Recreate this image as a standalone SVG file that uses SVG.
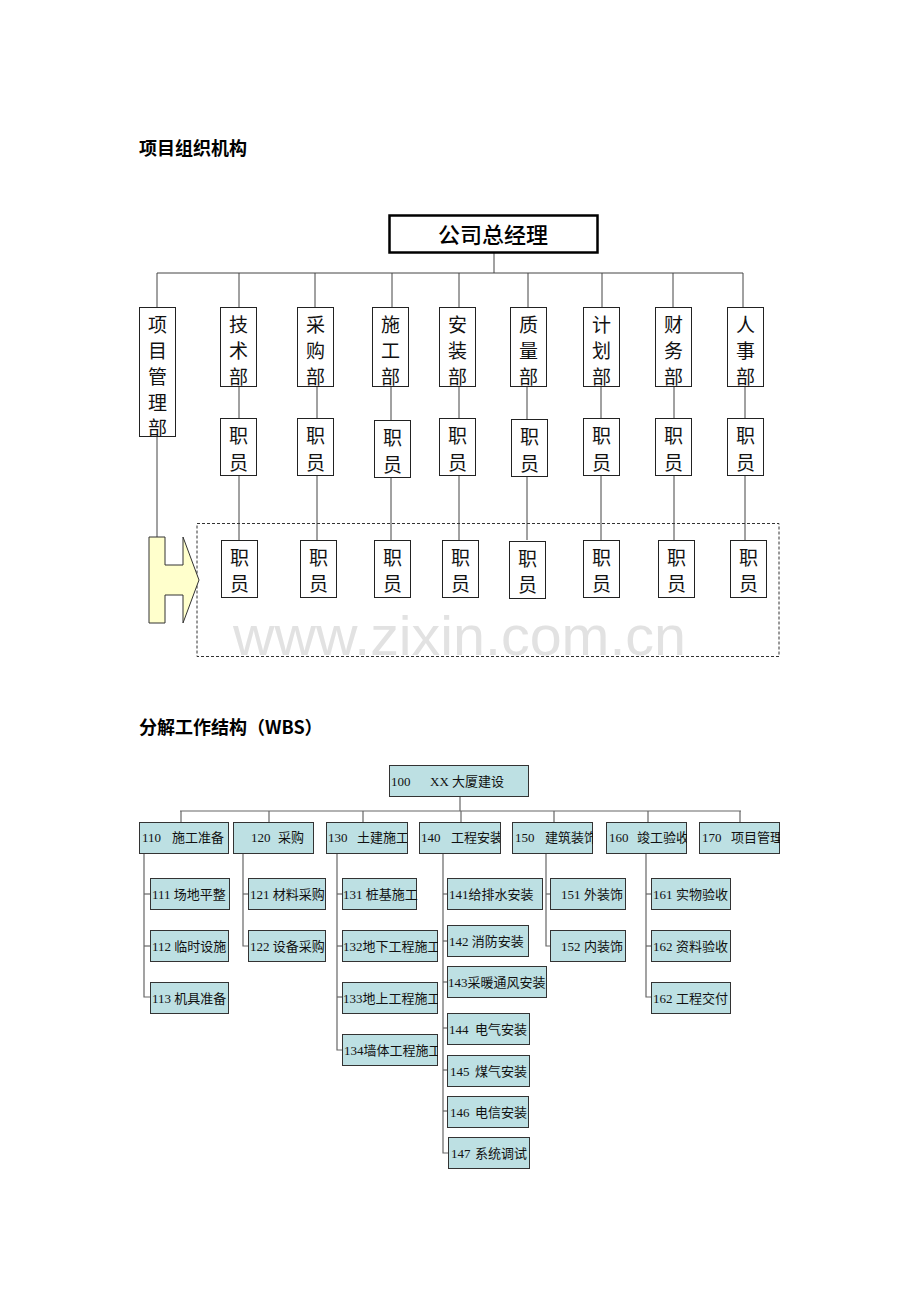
<svg xmlns="http://www.w3.org/2000/svg" width="920" height="1302" viewBox="0 0 920 1302">
<style>
.title{font-family:"Noto Sans CJK SC","Liberation Sans",sans-serif;font-size:18px;font-weight:bold;fill:#000}
.ob{fill:#fff;stroke:#222;stroke-width:1}
.ot{font-family:"Liberation Serif","Noto Sans CJK SC",serif;font-size:19px;fill:#111;text-anchor:middle}
.ln{stroke:#444;stroke-width:1;fill:none}
.wb{fill:#bde0e3;stroke:#333;stroke-width:1}
.wt{font-family:"Liberation Serif","Noto Sans CJK SC",serif;font-size:13px;fill:#111}
.wl{stroke:#666;stroke-width:1.2;fill:none}
</style>
<defs>
<clipPath id="c130"><rect x="326" y="822" width="81" height="31"/></clipPath>
<clipPath id="c140"><rect x="420" y="822" width="80" height="31"/></clipPath>
<clipPath id="c150"><rect x="513" y="822" width="80" height="31"/></clipPath>
<clipPath id="c160"><rect x="607" y="822" width="80" height="31"/></clipPath>
<clipPath id="c170"><rect x="700" y="822" width="80" height="31"/></clipPath>
<clipPath id="c132"><rect x="342" y="931" width="96" height="31"/></clipPath>
<clipPath id="c133"><rect x="342" y="982" width="96" height="31"/></clipPath>
<clipPath id="c134"><rect x="342" y="1034" width="96" height="31"/></clipPath>
</defs>
<rect width="920" height="1302" fill="#fff"/>

<text class="title" x="139" y="155">项目组织机构</text>
<text class="title" x="139" y="734">分解工作结构（WBS）</text>

<text x="233" y="655" font-family="Liberation Sans,Arial,sans-serif" font-size="56" fill="#e2e2e2" textLength="453" lengthAdjust="spacingAndGlyphs">www.zixin.com.cn</text>

<g id="org-connectors">
<line class="ln" x1="494" y1="253" x2="494" y2="273"/>
<line class="ln" x1="157" y1="273" x2="743" y2="273"/>
<line class="ln" x1="157" y1="273" x2="157" y2="307"/>
<line class="ln" x1="239" y1="273" x2="239" y2="307"/>
<line class="ln" x1="315" y1="273" x2="315" y2="307"/>
<line class="ln" x1="392" y1="273" x2="392" y2="307"/>
<line class="ln" x1="459" y1="273" x2="459" y2="307"/>
<line class="ln" x1="528" y1="273" x2="528" y2="307"/>
<line class="ln" x1="602" y1="273" x2="602" y2="307"/>
<line class="ln" x1="673" y1="273" x2="673" y2="307"/>
<line class="ln" x1="743" y1="273" x2="743" y2="307"/>
<line class="ln" x1="157" y1="436" x2="157" y2="537"/>
<line class="ln" x1="239" y1="386" x2="239" y2="540"/>
<line class="ln" x1="317" y1="386" x2="317" y2="540"/>
<line class="ln" x1="391" y1="386" x2="391" y2="540"/>
<line class="ln" x1="459" y1="386" x2="459" y2="540"/>
<line class="ln" x1="527" y1="386" x2="527" y2="540"/>
<line class="ln" x1="601" y1="386" x2="601" y2="540"/>
<line class="ln" x1="674" y1="386" x2="674" y2="540"/>
<line class="ln" x1="745" y1="386" x2="745" y2="540"/>
<rect x="197" y="523.5" width="582" height="133" fill="none" stroke="#333" stroke-width="1" stroke-dasharray="3,2"/>
<polygon points="149,537 165,537 165,565 183,565 183,537 199,580 183,623 183,595 165,595 165,623 149,623" fill="#ffffcc" stroke="#333" stroke-width="1"/>
</g>

<g id="gm">
<rect x="389.5" y="215.5" width="208" height="37" fill="#fff" stroke="#000" stroke-width="2.5"/>
<text x="493" y="243" font-family="Noto Sans CJK SC,sans-serif" font-size="22" font-weight="500" text-anchor="middle" fill="#000">公司总经理</text>
</g>

<g id="d-xm"><rect class="ob" x="139.5" y="307.5" width="36" height="129"/>
<text class="ot" x="157.5"><tspan x="157.5" y="332">项</tspan><tspan x="157.5" y="358">目</tspan><tspan x="157.5" y="384">管</tspan><tspan x="157.5" y="410">理</tspan><tspan x="157.5" y="435">部</tspan></text></g>

<g id="d-js"><rect class="ob" x="220.5" y="307.5" width="36" height="79"/>
<text class="ot"><tspan x="238.5" y="332">技</tspan><tspan x="238.5" y="358">术</tspan><tspan x="238.5" y="384">部</tspan></text></g>
<g id="d-cg"><rect class="ob" x="297.5" y="307.5" width="36" height="79"/>
<text class="ot"><tspan x="315.5" y="332">采</tspan><tspan x="315.5" y="358">购</tspan><tspan x="315.5" y="384">部</tspan></text></g>
<g id="d-sg"><rect class="ob" x="372.5" y="307.5" width="36" height="79"/>
<text class="ot"><tspan x="390.5" y="332">施</tspan><tspan x="390.5" y="358">工</tspan><tspan x="390.5" y="384">部</tspan></text></g>
<g id="d-az"><rect class="ob" x="439.5" y="307.5" width="36" height="79"/>
<text class="ot"><tspan x="457.5" y="332">安</tspan><tspan x="457.5" y="358">装</tspan><tspan x="457.5" y="384">部</tspan></text></g>
<g id="d-zl"><rect class="ob" x="510.5" y="307.5" width="36" height="79"/>
<text class="ot"><tspan x="528.5" y="332">质</tspan><tspan x="528.5" y="358">量</tspan><tspan x="528.5" y="384">部</tspan></text></g>
<g id="d-jh"><rect class="ob" x="583.5" y="307.5" width="36" height="79"/>
<text class="ot"><tspan x="601.5" y="332">计</tspan><tspan x="601.5" y="358">划</tspan><tspan x="601.5" y="384">部</tspan></text></g>
<g id="d-cw"><rect class="ob" x="655.5" y="307.5" width="36" height="79"/>
<text class="ot"><tspan x="673.5" y="332">财</tspan><tspan x="673.5" y="358">务</tspan><tspan x="673.5" y="384">部</tspan></text></g>
<g id="d-rs"><rect class="ob" x="727.5" y="307.5" width="36" height="79"/>
<text class="ot"><tspan x="745.5" y="332">人</tspan><tspan x="745.5" y="358">事</tspan><tspan x="745.5" y="384">部</tspan></text></g>

<g id="e1-1"><rect class="ob" x="220.5" y="418.5" width="36" height="57"/><text class="ot"><tspan x="238.5" y="443">职</tspan><tspan x="238.5" y="470">员</tspan></text></g>
<g id="e1-2"><rect class="ob" x="297.5" y="418.5" width="36" height="57"/><text class="ot"><tspan x="315.5" y="443">职</tspan><tspan x="315.5" y="470">员</tspan></text></g>
<g id="e1-3"><rect class="ob" x="374.5" y="420.5" width="36" height="57"/><text class="ot"><tspan x="392.5" y="445">职</tspan><tspan x="392.5" y="472">员</tspan></text></g>
<g id="e1-4"><rect class="ob" x="439.5" y="418.5" width="36" height="57"/><text class="ot"><tspan x="457.5" y="443">职</tspan><tspan x="457.5" y="470">员</tspan></text></g>
<g id="e1-5"><rect class="ob" x="511.5" y="419.5" width="36" height="57"/><text class="ot"><tspan x="529.5" y="444">职</tspan><tspan x="529.5" y="471">员</tspan></text></g>
<g id="e1-6"><rect class="ob" x="583.5" y="418.5" width="36" height="57"/><text class="ot"><tspan x="601.5" y="443">职</tspan><tspan x="601.5" y="470">员</tspan></text></g>
<g id="e1-7"><rect class="ob" x="655.5" y="418.5" width="36" height="57"/><text class="ot"><tspan x="673.5" y="443">职</tspan><tspan x="673.5" y="470">员</tspan></text></g>
<g id="e1-8"><rect class="ob" x="727.5" y="418.5" width="36" height="57"/><text class="ot"><tspan x="745.5" y="443">职</tspan><tspan x="745.5" y="470">员</tspan></text></g>

<g id="e2-1"><rect class="ob" x="221.5" y="540.5" width="36" height="57"/><text class="ot"><tspan x="239.5" y="565">职</tspan><tspan x="239.5" y="591">员</tspan></text></g>
<g id="e2-2"><rect class="ob" x="300.5" y="540.5" width="36" height="57"/><text class="ot"><tspan x="318.5" y="565">职</tspan><tspan x="318.5" y="591">员</tspan></text></g>
<g id="e2-3"><rect class="ob" x="374.5" y="540.5" width="36" height="57"/><text class="ot"><tspan x="392.5" y="565">职</tspan><tspan x="392.5" y="591">员</tspan></text></g>
<g id="e2-4"><rect class="ob" x="442.5" y="540.5" width="36" height="57"/><text class="ot"><tspan x="460.5" y="565">职</tspan><tspan x="460.5" y="591">员</tspan></text></g>
<g id="e2-5"><rect class="ob" x="509.5" y="541.5" width="36" height="57"/><text class="ot"><tspan x="527.5" y="566">职</tspan><tspan x="527.5" y="592">员</tspan></text></g>
<g id="e2-6"><rect class="ob" x="583.5" y="540.5" width="36" height="57"/><text class="ot"><tspan x="601.5" y="565">职</tspan><tspan x="601.5" y="591">员</tspan></text></g>
<g id="e2-7"><rect class="ob" x="658.5" y="540.5" width="36" height="57"/><text class="ot"><tspan x="676.5" y="565">职</tspan><tspan x="676.5" y="591">员</tspan></text></g>
<g id="e2-8"><rect class="ob" x="730.5" y="540.5" width="36" height="57"/><text class="ot"><tspan x="748.5" y="565">职</tspan><tspan x="748.5" y="591">员</tspan></text></g>

<g id="wbs-connectors">
<line class="wl" x1="460" y1="796" x2="460" y2="811"/>
<line class="wl" x1="180" y1="811" x2="741" y2="811"/>
<line class="wl" x1="181" y1="811" x2="181" y2="822"/>
<line class="wl" x1="269" y1="811" x2="269" y2="822"/>
<line class="wl" x1="363" y1="811" x2="363" y2="822"/>
<line class="wl" x1="461" y1="811" x2="461" y2="822"/>
<line class="wl" x1="554" y1="811" x2="554" y2="822"/>
<line class="wl" x1="648" y1="811" x2="648" y2="822"/>
<line class="wl" x1="740" y1="811" x2="740" y2="822"/>
<polyline class="wl" points="144,853 144,997 150,997"/>
<line class="wl" x1="144" y1="894" x2="150" y2="894"/>
<line class="wl" x1="144" y1="946" x2="150" y2="946"/>
<polyline class="wl" points="243,853 243,946 248,946"/>
<line class="wl" x1="243" y1="894" x2="248" y2="894"/>
<polyline class="wl" points="337,853 337,1050 342,1050"/>
<line class="wl" x1="337" y1="894" x2="342" y2="894"/>
<line class="wl" x1="337" y1="946" x2="342" y2="946"/>
<line class="wl" x1="337" y1="997" x2="342" y2="997"/>
<polyline class="wl" points="443,853 443,1153 448,1153"/>
<line class="wl" x1="443" y1="894" x2="447" y2="894"/>
<line class="wl" x1="443" y1="941" x2="447" y2="941"/>
<line class="wl" x1="443" y1="982" x2="447" y2="982"/>
<line class="wl" x1="443" y1="1028" x2="447" y2="1028"/>
<line class="wl" x1="443" y1="1070" x2="447" y2="1070"/>
<line class="wl" x1="443" y1="1111" x2="447" y2="1111"/>
<polyline class="wl" points="546,853 546,946 550,946"/>
<line class="wl" x1="546" y1="894" x2="550" y2="894"/>
<polyline class="wl" points="646,853 646,997 651,997"/>
<line class="wl" x1="646" y1="894" x2="651" y2="894"/>
<line class="wl" x1="646" y1="946" x2="651" y2="946"/>
</g>

<g id="w100"><rect class="wb" x="389.5" y="765.5" width="139" height="31"/>
<text class="wt" font-size="16" x="391" y="786">100</text><text class="wt" font-size="16" x="430" y="786">XX 大厦建设</text></g>

<g id="w110"><rect class="wb" x="139.5" y="822.5" width="89" height="31"/><text class="wt" x="142" y="842">110</text><text class="wt" x="172" y="842">施工准备</text></g>
<g id="w120"><rect class="wb" x="233.5" y="822.5" width="80" height="31"/><text class="wt" x="251" y="842">120</text><text class="wt" x="278" y="842">采购</text></g>
<g id="w130"><rect class="wb" x="326.5" y="822.5" width="81" height="31"/><g clip-path="url(#c130)"><text class="wt" x="328" y="842">130</text><text class="wt" x="357" y="842">土建施工</text></g></g>
<g id="w140"><rect class="wb" x="419.5" y="822.5" width="81" height="31"/><g clip-path="url(#c140)"><text class="wt" x="421" y="842">140</text><text class="wt" x="451" y="842">工程安装</text></g></g>
<g id="w150"><rect class="wb" x="512.5" y="822.5" width="80" height="31"/><g clip-path="url(#c150)"><text class="wt" x="515" y="842">150</text><text class="wt" x="545" y="842">建筑装饰</text></g></g>
<g id="w160"><rect class="wb" x="606.5" y="822.5" width="80" height="31"/><g clip-path="url(#c160)"><text class="wt" x="609" y="842">160</text><text class="wt" x="637" y="842">竣工验收</text></g></g>
<g id="w170"><rect class="wb" x="699.5" y="822.5" width="80" height="31"/><g clip-path="url(#c170)"><text class="wt" x="702" y="842">170</text><text class="wt" x="731" y="842">项目管理</text></g></g>

<g id="w111"><rect class="wb" x="150.5" y="878.5" width="79" height="31"/><text class="wt" x="152" y="899">111 场地平整</text></g>
<g id="w112"><rect class="wb" x="150.5" y="930.5" width="78" height="31"/><text class="wt" x="152" y="951">112 临时设施</text></g>
<g id="w113"><rect class="wb" x="150.5" y="982.5" width="78" height="31"/><text class="wt" x="152" y="1003">113 机具准备</text></g>

<g id="w121"><rect class="wb" x="248.5" y="878.5" width="77" height="31"/><text class="wt" x="250" y="899">121 材料采购</text></g>
<g id="w122"><rect class="wb" x="248.5" y="930.5" width="77" height="31"/><text class="wt" x="250" y="951">122 设备采购</text></g>

<g id="w131"><rect class="wb" x="342.5" y="878.5" width="74" height="31"/><text class="wt" x="343" y="899">131 桩基施工</text></g>
<g id="w132"><rect class="wb" x="342.5" y="930.5" width="95" height="31"/><g clip-path="url(#c132)"><text class="wt" x="343" y="951">132地下工程施工</text></g></g>
<g id="w133"><rect class="wb" x="342.5" y="982.5" width="95" height="31"/><g clip-path="url(#c133)"><text class="wt" x="343" y="1003">133地上工程施工</text></g></g>
<g id="w134"><rect class="wb" x="342.5" y="1034.5" width="95" height="31"/><g clip-path="url(#c134)"><text class="wt" x="344" y="1055">134墙体工程施工</text></g></g>

<g id="w141"><rect class="wb" x="447.5" y="878.5" width="95" height="31"/><text class="wt" x="449" y="899">141给排水安装</text></g>
<g id="w142"><rect class="wb" x="447.5" y="925.5" width="81" height="31"/><text class="wt" x="449" y="946">142 消防安装</text></g>
<g id="w143"><rect class="wb" x="447.5" y="966.5" width="99" height="31"/><text class="wt" x="448" y="987">143采暖通风安装</text></g>
<g id="w144"><rect class="wb" x="447.5" y="1013.5" width="82" height="31"/><text class="wt" x="449" y="1034">144</text><text class="wt" x="475" y="1034">电气安装</text></g>
<g id="w145"><rect class="wb" x="447.5" y="1055.5" width="82" height="31"/><text class="wt" x="450" y="1076">145</text><text class="wt" x="475" y="1076">煤气安装</text></g>
<g id="w146"><rect class="wb" x="447.5" y="1096.5" width="81" height="31"/><text class="wt" x="450" y="1117">146</text><text class="wt" x="475" y="1117">电信安装</text></g>
<g id="w147"><rect class="wb" x="448.5" y="1137.5" width="81" height="31"/><text class="wt" x="451" y="1158">147</text><text class="wt" x="475" y="1158">系统调试</text></g>

<g id="w151"><rect class="wb" x="550.5" y="878.5" width="75" height="31"/><text class="wt" x="561" y="899">151</text><text class="wt" x="584" y="899">外装饰</text></g>
<g id="w152"><rect class="wb" x="550.5" y="930.5" width="75" height="31"/><text class="wt" x="561" y="951">152</text><text class="wt" x="584" y="951">内装饰</text></g>

<g id="w161"><rect class="wb" x="651.5" y="878.5" width="79" height="31"/><text class="wt" x="653" y="899">161</text><text class="wt" x="676" y="899">实物验收</text></g>
<g id="w162a"><rect class="wb" x="651.5" y="930.5" width="79" height="31"/><text class="wt" x="653" y="951">162</text><text class="wt" x="676" y="951">资料验收</text></g>
<g id="w162b"><rect class="wb" x="651.5" y="982.5" width="79" height="31"/><text class="wt" x="653" y="1003">162</text><text class="wt" x="676" y="1003">工程交付</text></g>
</svg>
